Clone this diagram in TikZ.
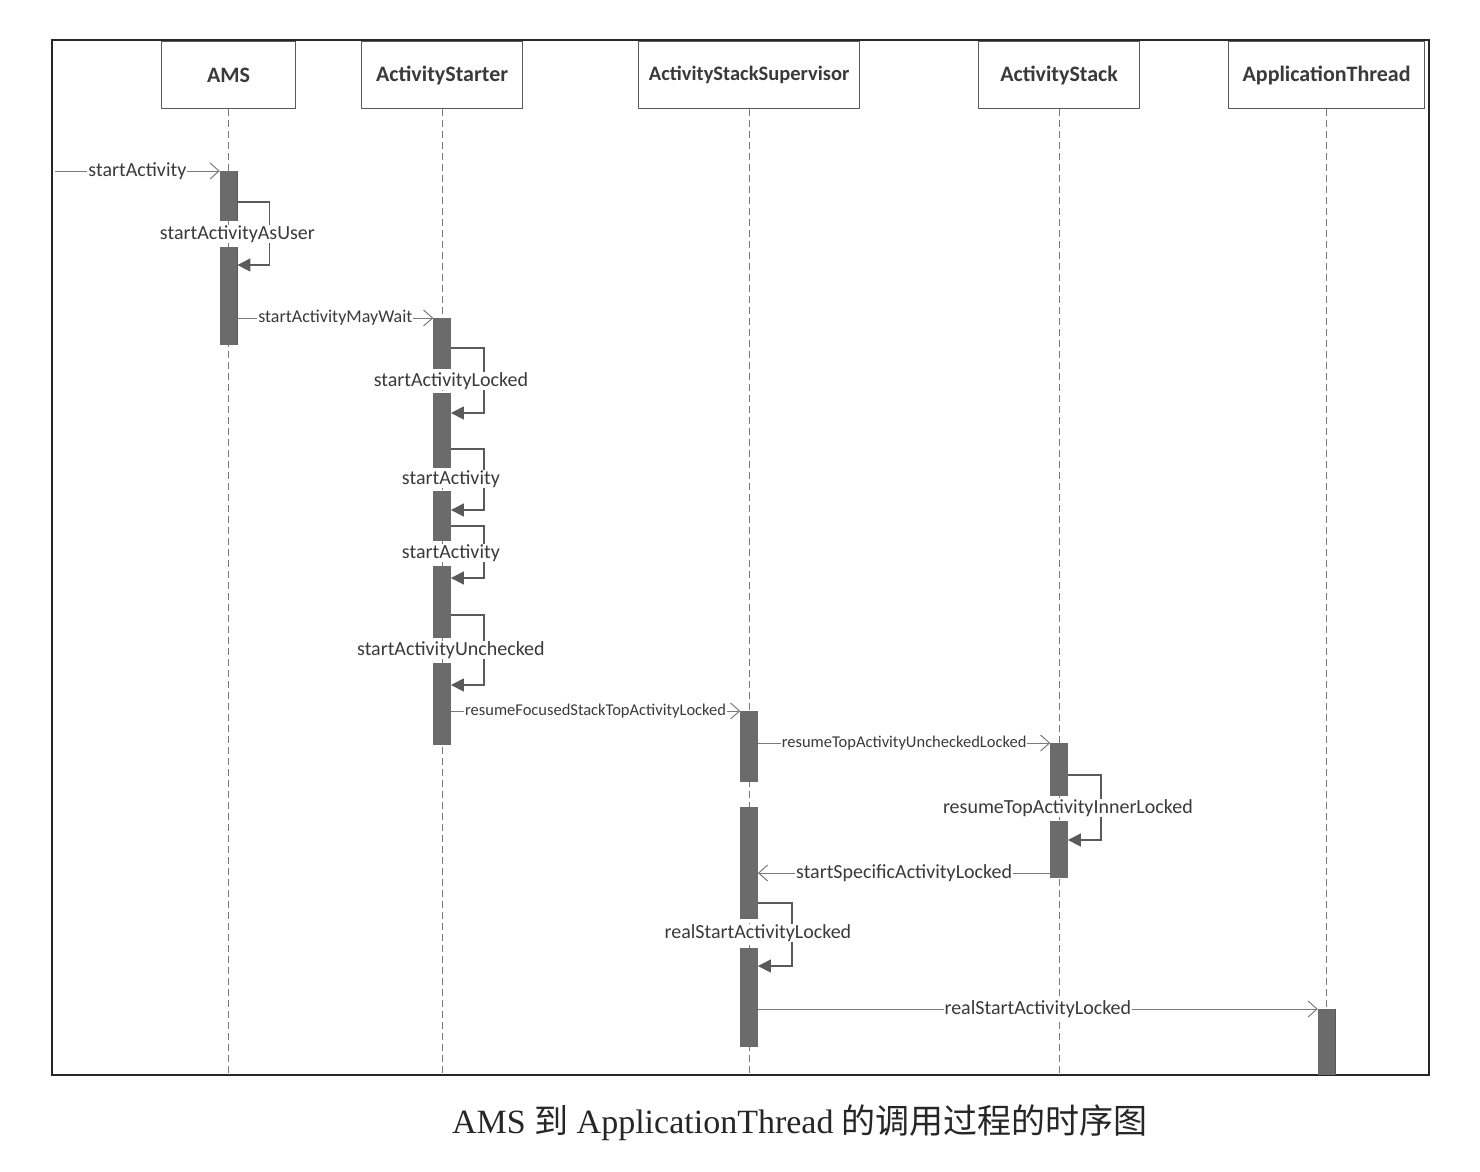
\documentclass[tikz,border=0pt]{standalone}
\usepackage{fontspec}
\setmainfont{Liberation Serif}
\newfontfamily\cf{Carlito}
\newfontfamily\cjk{Noto Sans CJK SC}
\usetikzlibrary{arrows.meta,calc}
\definecolor{ink}{HTML}{3A3A3A}
\definecolor{linec}{HTML}{5A5A5A}
\definecolor{msgc}{HTML}{7A7A7A}
\definecolor{barc}{HTML}{6B6B6B}
\begin{document}
\begin{tikzpicture}[x=1pt,y=-1pt,
 hdr/.style={draw=linec,line width=1.2pt,minimum height=67pt,anchor=north west,inner sep=0pt,text=ink,font=\cf\bfseries\fontsize{22}{26}\selectfont},
 life/.style={draw=linec!80,line width=0.9pt,dash pattern=on 7pt off 4pt},
 bar/.style={fill=barc,draw=barc!80!black,line width=0.6pt,minimum width=17pt,inner sep=0pt,anchor=north},
 self/.style={draw=linec,line width=1.2pt,-{Triangle[length=13pt,width=13pt]}},
 msg/.style={draw=msgc,line width=1pt,-{Straight Barb[length=9pt,width=16pt,line width=1pt]}},
 slbl/.style={fill=white,inner xsep=1pt,inner ysep=0.5pt,text=ink,font=\cf\fontsize{20}{22}\selectfont},
 mlbl/.style={fill=white,inner xsep=1pt,inner ysep=0.5pt,text=ink,font=\cf\fontsize{20}{22}\selectfont},
]
\useasboundingbox[fill=white] (0,0) rectangle (1480,1171);

% frame
\node[draw=black!85,line width=2pt,minimum width=1377pt,minimum height=1035pt,anchor=north west,inner sep=0pt] (frame) at (51,39) {};

% headers
\node[hdr,minimum width=134pt] (hAMS) at (161,41) {AMS};
\node[hdr,minimum width=161pt] (hST) at (361,41) {ActivityStarter};
\node[hdr,minimum width=221pt,font=\cf\bfseries\fontsize{20.5}{24}\selectfont] (hSV) at (638,41) {ActivityStackSupervisor};
\node[hdr,minimum width=161pt] (hSK) at (978,41) {ActivityStack};
\node[hdr,minimum width=196pt] (hAT) at (1228,41) {ApplicationThread};

% lifelines
\foreach \h in {hAMS,hST,hSV,hSK,hAT}
  \draw[life] (\h.south) -- (\h.south |- frame.south);

% bar positions (coordinates only)
\coordinate (src) at (55,171);

% self loops
\path (hAMS.south |- 0,171) node[bar,minimum height=49pt] (amsA) {};
\path (hAMS.south |- 0,247) node[bar,minimum height=97pt] (amsB) {};
\path (hST.south |- 0,318) node[bar,minimum height=50pt] (stA) {};
\path (hST.south |- 0,393) node[bar,minimum height=74pt] (stB) {};
\path (hST.south |- 0,491) node[bar,minimum height=49pt] (stC) {};
\path (hST.south |- 0,566) node[bar,minimum height=71pt] (stD) {};
\path (hST.south |- 0,663) node[bar,minimum height=81pt] (stE) {};
\path (hSV.south |- 0,711) node[bar,minimum height=70pt] (svA) {};
\path (hSV.south |- 0,807) node[bar,minimum height=111pt] (svB) {};
\path (hSV.south |- 0,948) node[bar,minimum height=98pt] (svC) {};
\path (hSK.south |- 0,743) node[bar,minimum height=52pt] (skA) {};
\path (hSK.south |- 0,821) node[bar,minimum height=56pt] (skB) {};
\path (hAT.south |- 0,1009) node[bar,minimum height=65pt] (atA) {};

\draw[self] (amsA.east |- 0,202) -- ++(32,0) |- (amsB.east |- 0,265);
\draw[self] (stA.east |- 0,348) -- ++(33,0) |- (stB.east |- 0,413);
\draw[self] (stB.east |- 0,449) -- ++(33,0) |- (stC.east |- 0,510);
\draw[self] (stC.east |- 0,526) -- ++(33,0) |- (stD.east |- 0,578);
\draw[self] (stD.east |- 0,615) -- ++(33,0) |- (stE.east |- 0,685);
\draw[self] (skA.east |- 0,775) -- ++(33,0) |- (skB.east |- 0,840);
\draw[self] (svB.east |- 0,903) -- ++(34,0) |- (svC.east |- 0,966);

\node[slbl] (l1) at ($(amsA.south east)!0.5!(amsB.north east)$) {startActivityAsUser};
\node[slbl] (l2) at ($(stA.south east)!0.5!(stB.north east)$) {startActivityLocked};
\node[slbl] (l3) at ($(stB.south east)!0.5!(stC.north east)$) {startActivity};
\node[slbl] (l4) at ($(stC.south east)!0.5!(stD.north east)$) {startActivity};
\node[slbl] (l5) at ($(stD.south east)!0.5!(stE.north east)$) {startActivityUnchecked};
\node[slbl] (l6) at ($(skA.south east)!0.5!(skB.north east)$) {resumeTopActivityInnerLocked};
\node[slbl] (l7) at ($(svB.south east)!0.5!(svC.north east)$) {realStartActivityLocked};

% redraw bars on top
\foreach \b in {amsA,amsB,stA,stB,stC,stD,stE,svA,svB,svC,skA,skB,atA}
  \fill[barc] (\b.north west) rectangle (\b.south east);

% messages
\draw[msg] (src) -- node[mlbl] {startActivity} (amsA.north west);
\draw[msg] (amsB.east |- stA.north) -- node[mlbl,font=\cf\fontsize{18}{20}\selectfont] {startActivityMayWait} (stA.north west);
\draw[msg] (stE.east |- svA.north) -- node[mlbl,font=\cf\fontsize{16.5}{19}\selectfont] {resumeFocusedStackTopActivityLocked} (svA.north west);
\draw[msg] (svA.east |- skA.north) -- node[mlbl,font=\cf\fontsize{16.5}{19}\selectfont] {resumeTopActivityUncheckedLocked} (skA.north west);
\draw[msg] (skB.west |- 0,873) -- node[mlbl] {startSpecificActivityLocked} (svB.east |- 0,873);
\draw[msg] (svC.east |- atA.north) -- node[mlbl] {realStartActivityLocked} (atA.north west);

% caption
\node[text=black!85,font=\fontsize{34}{40}\selectfont] (cap) at (800,1123) {AMS {\cjk 到} ApplicationThread {\cjk 的调用过程的时序图}};
\end{tikzpicture}
\end{document}
